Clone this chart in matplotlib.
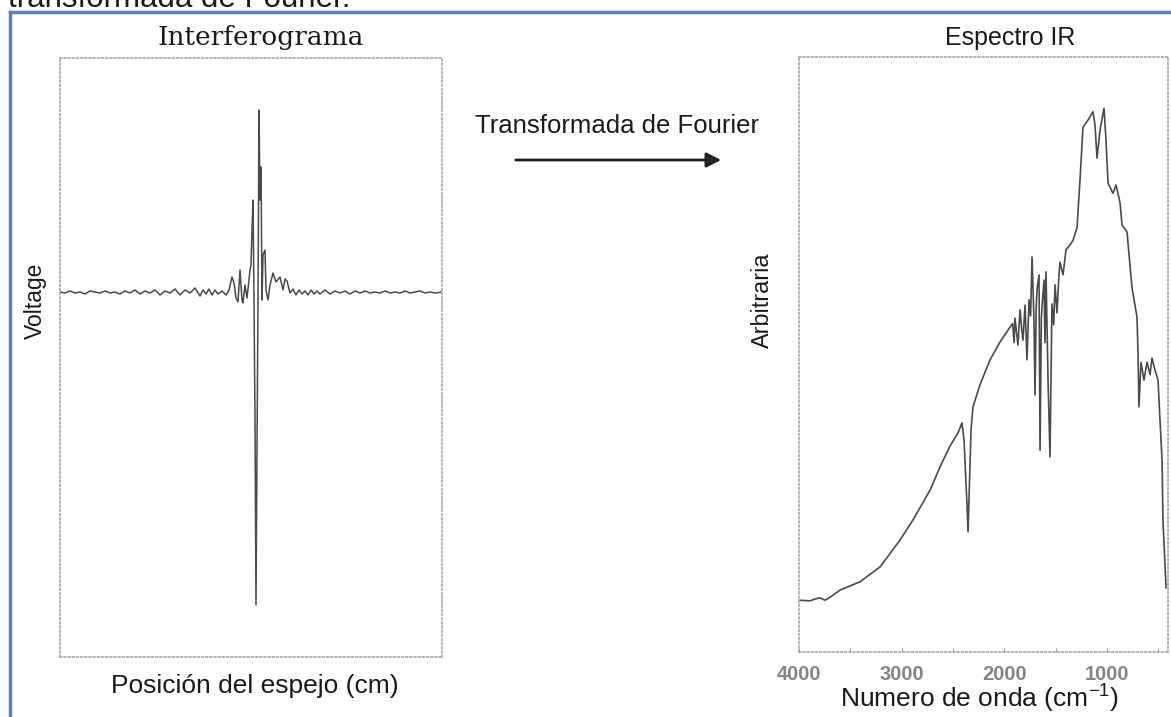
import matplotlib
matplotlib.use('Agg')
import matplotlib.pyplot as plt
from matplotlib.lines import Line2D
from matplotlib.patches import FancyArrowPatch

plt.rcParams['font.family'] = ['Liberation Sans', 'DejaVu Sans']
plt.rcParams['mathtext.fontset'] = 'custom'
plt.rcParams['mathtext.rm'] = 'Liberation Sans'

# interferogram, arbitrary units (mirror step, detector voltage)
posicion = [0, 5, 10, 15, 20, 25, 30, 35, 40, 45, 50, 55, 60, 65, 70, 75, 80, 85, 90, 95,
            100, 105, 110, 115, 120, 125, 130, 135, 140, 143, 146, 149, 152, 155, 158, 162, 166, 169,
            172, 174, 176, 178, 180, 182, 183, 185, 187, 189, 190, 191, 192, 193, 194, 195, 196,
            197, 198, 199, 200, 201, 202, 203, 205, 206, 208, 210, 213, 216, 220, 223, 225, 227, 230,
            233, 236, 239, 242, 245, 248, 251, 254, 257, 260, 265, 270, 275, 280, 285, 290, 295,
            300, 305, 310, 315, 320, 325, 330, 335, 340, 345, 350, 355, 360, 365, 370, 375, 382]
voltaje = [0, -1, 1, -1, 0, -2, 1, 0, -1, 1, -1, 0, -2, 1, -1, 2, -2, 1, -1, 2,
           -3, 1, -1, 3, -3, 2, -1, 4, -4, 2, -2, 3, -3, 2, -2, 1, -3, 2,
           15, 9, -6, -10, 22, -8, -11, 7, -6, 12, 22, 27, 62, 92, -8, -128, -313,
           -158, -8, 182, 92, 125, -8, 37, 42, 2, -8, 7, 19, 10, 15, 2, 13, 11, -1,
           3, -3, 2, -2, 1, -3, 2, -2, 1, -2, 2, -2, 1, -1, 1, -2, 1,
           -1, 1, -1, 0, -1, 1, -1, 0, -1, 1, -1, 0, 1, -1, 0, -1, 0]

# IR spectrum
numero_onda = [4000, 3893, 3844, 3796, 3747, 3698, 3601, 3406, 3211, 3017, 2890, 2724, 2627,
               2530, 2452, 2413, 2393, 2364, 2354, 2345, 2325, 2306, 2238, 2140, 2043, 1945,
               1920, 1905, 1897, 1868, 1848, 1830, 1819, 1799, 1780, 1760, 1745, 1731, 1712,
               1702, 1690, 1683, 1663, 1653, 1640, 1634, 1614, 1605, 1595, 1575, 1556, 1537,
               1520, 1507, 1488, 1470, 1459, 1429, 1400, 1361, 1332,
               1293, 1264, 1235, 1186, 1137, 1118, 1098, 1069, 1030, 1011, 991, 943, 913, 874,
               855, 806, 758, 709, 699, 690, 670, 641, 611, 582, 563, 534, 504, 485, 465, 456, 426]
intensidad = [8.7, 8.6, 8.9, 9.1, 8.7, 9.2, 10.4, 11.8, 14.3, 18.8, 22.2, 27.2, 31.1,
              34.6, 36.8, 38.5, 35.6, 24.7, 20.2, 25.5, 37.3, 41.2, 44.9, 49.1, 52.1, 54.6,
              55.2, 52.0, 56.1, 51.6, 57.5, 54.0, 52.4, 58.3, 49.1, 59.2, 56.5, 66.4, 55.8,
              43.2, 58.0, 60.8, 63.4, 33.9, 56.0, 58.0, 62.5, 52.0, 63.9, 45.7, 32.8, 58.5,
              55.0, 61.7, 57.0, 63.0, 65.5, 63.4, 67.6, 68.4, 69.2,
              71.3, 79.3, 88.2, 89.4, 90.8, 88.6, 83.0, 87.7, 91.4, 86.1, 78.8, 77.1, 78.5, 75.5,
              71.8, 70.6, 61.3, 56.3, 50.3, 41.2, 48.7, 45.7, 48.7, 46.6, 49.4, 47.4, 45.7, 39.0,
              32.3, 22.2, 10.8]

ticks_onda = [4000, 3500, 3000, 2500, 2000, 1500, 1000, 500]
etiquetas_onda = ['4000', '', '3000', '', '2000', '', '1000', '']

W, H = 1171, 717
fig = plt.figure(figsize=(W / 100, H / 100), dpi=100)
fig.patch.set_facecolor('white')

texto = '#1a1a1a'
punteado = (0, (1, 1.5))


def caja(ax):
    for s in ax.spines.values():
        s.set_linestyle(punteado)
        s.set_color('#a8a8a8')
        s.set_linewidth(1.2)


# left panel: interferogram
ax1 = fig.add_axes([60 / W, 1 - 657 / H, 382 / W, 599 / H])
ax1.plot(posicion, voltaje, color='#4a4a4a', lw=1.1)
ax1.set_xlim(0, 382)
ax1.set_ylim(-365, 234)
ax1.set_xticks([])
ax1.set_yticks([])
caja(ax1)

# right panel: IR spectrum
ax2 = fig.add_axes([799 / W, 1 - 652 / H, 369 / W, 595 / H])
ax2.plot(numero_onda, intensidad, color='#4a4a4a', lw=1.2)
ax2.set_xlim(4000, 407)
ax2.set_ylim(0, 100)
ax2.set_yticks([])
ax2.set_xticks(ticks_onda)
ax2.set_xticklabels(etiquetas_onda)
ax2.tick_params(axis='x', direction='in', length=3, color='#a0a0a0', pad=9,
                labelsize=14.5, labelcolor='#858585')
for lb in ax2.get_xticklabels():
    lb.set_fontweight('bold')
caja(ax2)

# texts
fig.text(8 / W, 1 - 7 / H, 'transformada de Fourier.', fontsize=22.5, color=texto, va='baseline')
fig.text(261 / W, 1 - 45 / H, 'Interferograma', family='DejaVu Serif', fontsize=19,
         color=texto, ha='center', va='baseline')
fig.text(1010 / W, 1 - 45 / H, 'Espectro IR', fontsize=18, color=texto, ha='center', va='baseline')
fig.text(475 / W, 1 - 133 / H, 'Transformada de Fourier', fontsize=18.5, color=texto, va='baseline')
fig.text(35 / W, 1 - 301 / H, 'Voltage', fontsize=16.5, color=texto, rotation=90,
         ha='center', va='center')
fig.text(762 / W, 1 - 300 / H, 'Arbitraria', fontsize=16.8, color=texto, rotation=90,
         ha='center', va='center')
fig.text(255 / W, 1 - 693 / H, 'Posición del espejo (cm)', fontsize=19, color=texto,
         ha='center', va='baseline')
fig.text(980 / W, 1 - 707 / H, 'Numero de onda (cm$^{-1}$)', fontsize=19, color=texto,
         ha='center', va='baseline')

# arrow
fig.add_artist(FancyArrowPatch((513 / W, 1 - 160 / H), (724 / W, 1 - 160 / H),
                               transform=fig.transFigure, arrowstyle='-|>',
                               mutation_scale=22, lw=2, color='#222222'))

# blue frame
azul = '#5a82b6'
fig.add_artist(Line2D([10 / W, 10 / W], [0, 1 - 12 / H], transform=fig.transFigure,
                      color=azul, lw=2.5))
fig.add_artist(Line2D([10 / W, 1], [1 - 12 / H, 1 - 12 / H], transform=fig.transFigure,
                      color=azul, lw=2.5))

fig.savefig('out.png', dpi=100)
